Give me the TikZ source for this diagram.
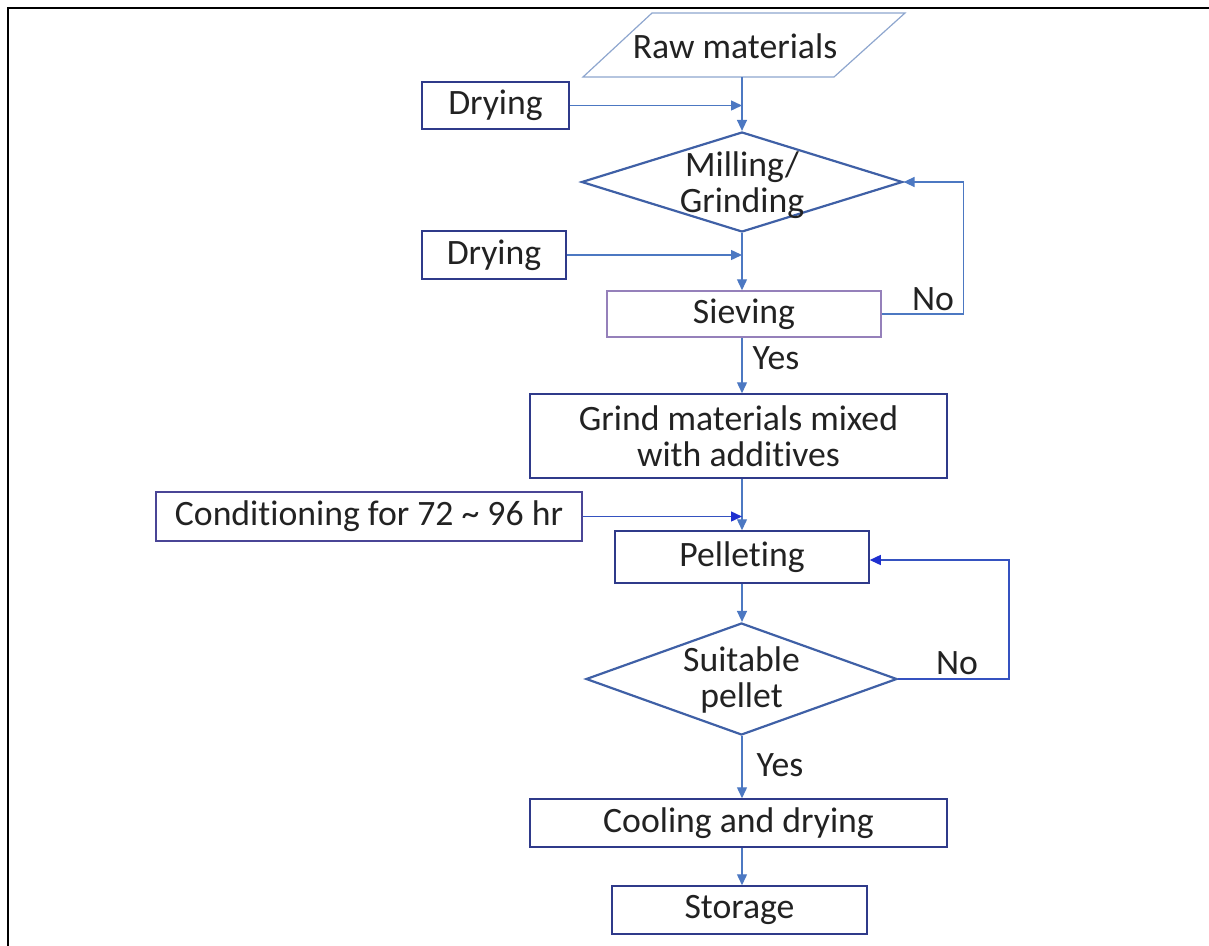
\documentclass[tikz,border=0pt]{standalone}
\usepackage{fontspec}
\setmainfont{Carlito}[Ligatures={NoCommon,NoContextual},Contextuals=NoAlternate]
\usetikzlibrary{arrows.meta,shapes.geometric}
\newcommand{\myfont}{\fontsize{35.7}{36}\selectfont}
\definecolor{conn}{HTML}{4C78C2}
\definecolor{conndk}{HTML}{3552C0}
\definecolor{tipdk}{HTML}{1E2FD0}
\definecolor{navy}{HTML}{2F3A8A}
\definecolor{mauve}{HTML}{9580BA}
\definecolor{condc}{HTML}{4A4596}
\definecolor{diac}{HTML}{3F60A6}
\definecolor{parac}{HTML}{8EA6CE}
\definecolor{txtc}{HTML}{222222}
\tikzset{
  txt/.style={font=\myfont, text=txtc, inner sep=0pt},
  box/.style={draw=navy, line width=1.5pt, rectangle, inner sep=0pt, font=\myfont, text=txtc, align=center},
  dia/.style={draw=diac, line width=2.2pt, diamond, inner sep=0pt},
  conn/.style={draw=conn, line width=1.4pt, -{Triangle[length=11pt,width=10pt]}},
  conndark/.style={draw=conndk, line width=1.4pt, -{Triangle[length=11pt,width=10pt,color=tipdk]}},
  lbl/.style={font=\myfont, text=txtc, inner sep=0pt}
}
\begin{document}
\begin{tikzpicture}[x=1pt,y=-1pt]
\useasboundingbox (0,0) rectangle (1209,945);
% frame
\draw[line width=2.5pt, black] (8,946) -- (8,8) -- (1210,8);
\coordinate (col) at (742,0);
% raw materials parallelogram
\draw[draw=parac, line width=1.2pt] (583,77) -- (834,77) -- (905,13) -- (652,13) -- cycle;
\node[txt] (raw) at (735,46) {Raw materials};
\coordinate (rawb) at (742,77);
% nodes
\node[box, minimum width=147, minimum height=47] (dry1) at (495.5,105.5) {Drying};
\node[dia, minimum width=321, minimum height=100] (dia1) at (742,182) {};
\node[txt, align=center] (dia1t) at (742,185) {Milling/\\Grinding};
\node[box, minimum width=144, minimum height=48] (dry2) at (494,255) {Drying};
\node[box, draw=mauve, minimum width=274, minimum height=46] (sieve) at (744,314) {Sieving};
\node[box, minimum width=417, minimum height=84] (grind) at (738.5,436) {Grind materials mixed\\with additives};
\node[box, draw=condc, minimum width=426, minimum height=49] (cond) at (369,516.5) {Conditioning for 72 \char"007E{} 96 hr};
\node[box, minimum width=254, minimum height=52] (pellet) at (742,557) {Pelleting};
\node[dia, minimum width=311, minimum height=112] (dia2) at (741.5,679) {};
\node[txt, align=center] (dia2t) at (741.5,680) {Suitable\\pellet};
\node[box, minimum width=417, minimum height=48] (cool) at (738.5,823) {Cooling and drying};
\node[box, minimum width=255, minimum height=48] (store) at (739.5,910) {Storage};
% labels
\node[lbl] (no1) at (933,299) {No};
\node[lbl] (yes1) at (776,358) {Yes};
\node[lbl] (no2) at (957,663) {No};
\node[lbl] (yes2) at (780,765) {Yes};
% connectors
\draw[conn] (rawb) -- (dia1.north -| col);
\draw[conn] (dry1.east) -- (dry1.east -| col);
\draw[conn] (dia1.south -| col) -- (sieve.north -| col);
\draw[conn] (dry2.east) -- (dry2.east -| col);
\draw[conn] (sieve.east) -- ++(82,0) |- (dia1.east);
\draw[conn] (sieve.south -| col) -- (grind.north -| col);
\draw[conn] (grind.south -| col) -- (pellet.north -| col);
\draw[conndark] (cond.east) -- (cond.east -| col);
\draw[conn] (pellet.south -| col) -- (dia2.north -| col);
\draw[conndark] (dia2.east) -- ++(111,0) |- ([yshift=-3pt]pellet.east);
\draw[conn] (dia2.south -| col) -- (cool.north -| col);
\draw[conn] (cool.south -| col) -- (store.north -| col);
\end{tikzpicture}
\end{document}
